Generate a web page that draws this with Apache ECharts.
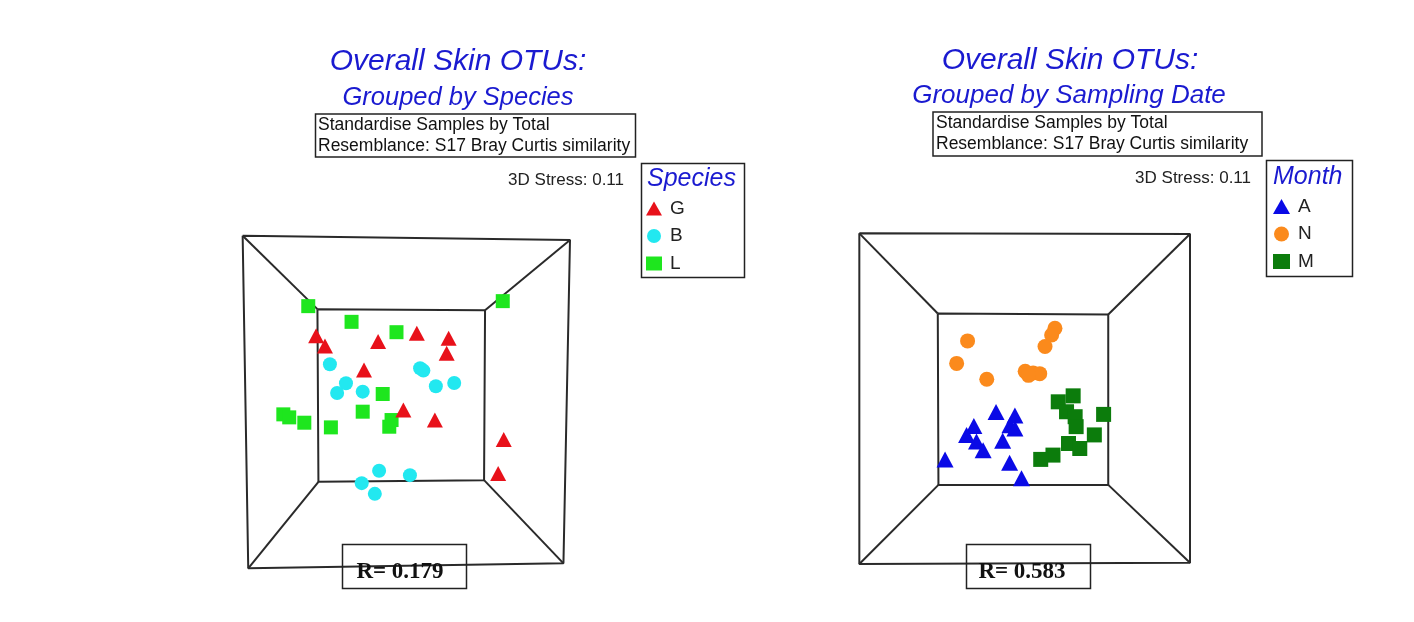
<!DOCTYPE html>
<html><head><meta charset="utf-8">
<script src="https://cdn.jsdelivr.net/npm/echarts@6/dist/echarts.min.js"></script>
<style>html,body{margin:0;padding:0;background:#fff}#c{width:1414px;height:622px}</style>
</head><body><div id="c"></div>
<script>
// ---- Panel 1: grouped by species (MDS coordinates, arbitrary units 0-100) ----
const speciesG = [[22.6,69.8],[25.3,66.8],[41.5,68.1],[53.3,70.6],[63.0,69.1],[62.4,64.6],[37.2,59.6],[49.2,47.6],[58.8,44.6],[79.8,38.8],[78.1,28.6]];
const speciesB = [[26.8,61.3],[31.7,55.6],[29.0,52.7],[36.8,53.1],[54.3,60.1],[55.3,59.4],[59.1,54.7],[64.7,55.7],[41.8,29.4],[51.2,28.1],[36.5,25.7],[40.5,22.5]];
const speciesL = [[20.2,78.7],[79.5,80.2],[33.4,74.0],[47.1,70.9],[42.9,52.4],[36.8,47.1],[12.6,46.3],[14.4,45.4],[19.0,43.8],[27.1,42.4],[45.6,44.6],[44.9,42.6]];
// ---- Panel 2: grouped by sampling date ----
const monthA = [[41.4,45.9],[47.1,44.9],[45.6,41.9],[47.1,40.9],[34.7,41.7],[32.5,39.0],[35.5,37.0],[37.5,34.4],[43.4,37.2],[26.0,31.6],[45.5,30.6],[49.1,25.9]];
const monthN = [[32.8,67.4],[29.5,60.6],[38.6,55.8],[59.2,71.2],[58.2,69.2],[56.2,65.7],[50.2,58.2],[52.6,57.7],[54.6,57.5],[51.2,57.0]];
const monthM = [[60.2,49.0],[64.7,50.8],[62.7,46.0],[65.3,44.5],[65.6,41.5],[73.9,45.2],[71.1,39.0],[63.3,36.4],[66.7,34.9],[58.6,32.9],[54.9,31.6]];
// ---- 3D box frame (perspective projection of the cube) ----
const box1Outer = [[0.2,99.8],[100,98.5],[98,1.7],[1.9,0.2],[0.2,99.8]];
const box1Inner = [[23,77.8],[74.1,77.5],[73.8,26.6],[23.3,26.1],[23,77.8]];
const box2Outer = [[0.1,99.9],[100,99.7],[100,0.4],[0.1,0],[0.1,99.9]];
const box2Inner = [[23.8,75.7],[75.3,75.4],[75.3,23.9],[24,23.9],[23.8,75.7]];
const legend1 = ['G','B','L'];
const legend2 = ['A','N','M'];

const BLUE = '#1a1ad0';
const chart = echarts.init(document.getElementById('c'), null, {renderer:'canvas'});

function frameSeries(outer, inner, idx){
  const ls = {color:'#2a2a2a', width:2};
  const s = [];
  const mk = (d)=>({type:'line', xAxisIndex:idx, yAxisIndex:idx, data:d, symbol:'none', lineStyle:ls, silent:true, z:1, animation:false});
  s.push(mk(outer)); s.push(mk(inner));
  for(let i=0;i<4;i++) s.push(mk([outer[i], inner[i]]));
  return s;
}
function scat(name, data, idx, symbol, size, color){
  return {type:'scatter', name, xAxisIndex:idx, yAxisIndex:idx, data, symbol, symbolSize:size,
    itemStyle:{color, opacity:1}, z:3, animation:false};
}
const axisX = (i)=>({type:'value', gridIndex:i, min:0, max:100, show:false});
const axisY = (i)=>({type:'value', gridIndex:i, min:0, max:100, show:false});

const series = [].concat(
  frameSeries(box1Outer, box1Inner, 0),
  frameSeries(box2Outer, box2Inner, 1),
  [
    scat(legend1[1], speciesB, 0, 'circle', 14, '#22e8f0'),
    scat(legend1[2], speciesL, 0, 'rect', 14, '#1ee61e'),
    scat(legend1[0], speciesG, 0, 'triangle', [16,15], '#e8111a'),
    scat(legend2[1], monthN, 1, 'circle', 15, '#fb8a1c'),
    scat(legend2[2], monthM, 1, 'rect', 15, '#0c7c0c'),
    scat(legend2[0], monthA, 1, 'triangle', [17,16], '#0a0ae6')
  ]
);

const txt = (x,y,text,font,fill,align)=>({type:'text', x, y, style:{text, font, fill:fill||'#222', textAlign:align||'left', textVerticalAlign:'middle'}, z:10});
const rectG = (x,y,w,h)=>({type:'rect', shape:{x,y,width:w,height:h}, style:{fill:'none', stroke:'#222', lineWidth:1.5}, z:9});

const graphics = [
  // left panel texts
  txt(458,62,'Overall Skin OTUs:','italic 30px "Liberation Sans", Arial, sans-serif',BLUE,'center'),
  txt(458,98,'Grouped by Species','italic 25.5px "Liberation Sans", Arial, sans-serif',BLUE,'center'),
  rectG(315.5,114,320,43),
  txt(318,125.5,'Standardise Samples by Total','17.5px "Liberation Sans", Arial, sans-serif','#111'),
  txt(318,146,'Resemblance: S17 Bray Curtis similarity','17.5px "Liberation Sans", Arial, sans-serif','#111'),
  txt(624,180,'3D Stress: 0.11','17px "Liberation Sans", Arial, sans-serif','#222','right'),
  rectG(641.5,163.5,103,114),
  txt(647,179,'Species','italic 25px "Liberation Sans", Arial, sans-serif',BLUE),
  rectG(342.5,544.5,124,44),
  txt(400,572,'R= 0.179','bold 23px "Liberation Serif", "Times New Roman", serif','#111','center'),
  // right panel texts
  txt(1070,61,'Overall Skin OTUs:','italic 30px "Liberation Sans", Arial, sans-serif',BLUE,'center'),
  txt(1069,96,'Grouped by Sampling Date','italic 26px "Liberation Sans", Arial, sans-serif',BLUE,'center'),
  rectG(933,112,329,44),
  txt(936,123,'Standardise Samples by Total','17.5px "Liberation Sans", Arial, sans-serif','#111'),
  txt(936,144,'Resemblance: S17 Bray Curtis similarity','17.5px "Liberation Sans", Arial, sans-serif','#111'),
  txt(1251,178,'3D Stress: 0.11','17px "Liberation Sans", Arial, sans-serif','#222','right'),
  rectG(1266.5,160.5,86,116),
  txt(1273,177,'Month','italic 25px "Liberation Sans", Arial, sans-serif',BLUE),
  rectG(966.5,544.5,124,44),
  txt(1022,572,'R= 0.583','bold 23px "Liberation Serif", "Times New Roman", serif','#111','center')
];

const legText = {fontSize:19, color:'#222', fontFamily:'"Liberation Sans", Arial, sans-serif', padding:[0,0,0,3]};
chart.setOption({
  animation:false,
  backgroundColor:'#fff',
  grid:[
    {left:242, top:235, width:328, height:334},
    {left:859, top:233, width:331, height:331}
  ],
  xAxis:[axisX(0), axisX(1)],
  yAxis:[axisY(0), axisY(1)],
  legend:[
    {data:legend1, orient:'vertical', left:646, top:199, padding:0, itemWidth:16, itemHeight:14, itemGap:8.5,
     textStyle:legText, selectedMode:false},
    {data:legend2, orient:'vertical', left:1273, top:197, padding:0, itemWidth:17, itemHeight:15, itemGap:8.5,
     textStyle:legText, selectedMode:false}
  ],
  graphic:graphics,
  series
});
</script></body></html>
